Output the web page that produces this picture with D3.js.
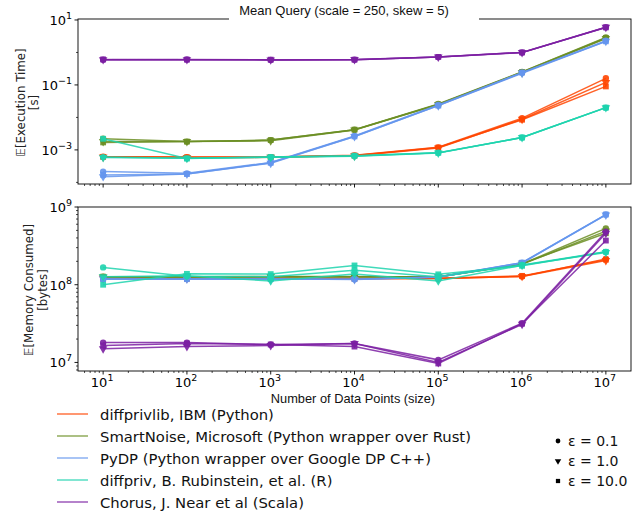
<!DOCTYPE html>
<html><head><meta charset="utf-8">
<script src="https://cdn.jsdelivr.net/npm/d3@7"></script>
<style>body{margin:0;background:#fff;} svg{display:block;}</style>
</head><body>
<svg id="c" width="643" height="513"></svg>
<script>
const sizes = [1e1, 1e2, 1e3, 1e4, 1e5, 1e6, 1e7];
const epsilons = ["0.1", "1.0", "10.0"];
const markerShapes = ["circle", "triangle", "square"];
const libraries = [
  "diffprivlib, IBM (Python)",
  "SmartNoise, Microsoft (Python wrapper over Rust)",
  "PyDP (Python wrapper over Google DP C++)",
  "diffpriv, B. Rubinstein, et al. (R)",
  "Chorus, J. Near et al (Scala)"
];
const colors = ["#ff4500", "#6b8e23", "#6495ed", "#1ed3ae", "#7b1fa2"];
const title = "Mean Query (scale = 250, skew = 5)";
const xLabel = "Number of Data Points (size)";
const xTickExps = [1, 2, 3, 4, 5, 6, 7];
const timeTickExps = [-3, -1, 1];
const memTickExps = [7, 8, 9];

// execution time [s]: per library, per epsilon (0.1, 1.0, 10.0)
const timeDiffprivlib = [
  [0.00062, 0.0006, 0.0006, 0.00068, 0.0012, 0.0095, 0.16],
  [0.0006, 0.00058, 0.00059, 0.00066, 0.00115, 0.0088, 0.12],
  [0.00061, 0.00059, 0.0006, 0.00067, 0.00118, 0.0085, 0.09]
];
const timeSmartNoise = [
  [0.0022, 0.0018, 0.0020, 0.0042, 0.026, 0.25, 2.9],
  [0.0018, 0.0018, 0.0019, 0.0041, 0.025, 0.24, 2.7],
  [0.0017, 0.0018, 0.0020, 0.0042, 0.025, 0.25, 2.8]
];
const timePyDP = [
  [0.000215, 0.00019, 0.00041, 0.0027, 0.024, 0.24, 2.3],
  [0.00015, 0.00018, 0.00039, 0.0026, 0.023, 0.23, 2.2],
  [0.00017, 0.00018, 0.0004, 0.0026, 0.023, 0.24, 2.2]
];
const timeDiffpriv = [
  [0.0006, 0.00055, 0.0006, 0.00065, 0.00082, 0.0024, 0.020],
  [0.00058, 0.00055, 0.00059, 0.00064, 0.0008, 0.0024, 0.020],
  [0.0022, 0.00054, 0.0006, 0.00066, 0.00081, 0.0024, 0.020]
];
const timeChorus = [
  [0.6, 0.61, 0.59, 0.6, 0.72, 1.0, 6.0],
  [0.6, 0.6, 0.59, 0.61, 0.72, 0.99, 6.0],
  [0.61, 0.6, 0.6, 0.6, 0.73, 1.0, 5.9]
];

// memory consumed [bytes]
const memDiffprivlib = [
  [1.2e8, 1.2e8, 1.2e8, 1.2e8, 1.2e8, 1.28e8, 2.15e8],
  [1.21e8, 1.21e8, 1.2e8, 1.2e8, 1.2e8, 1.28e8, 2.05e8],
  [1.2e8, 1.2e8, 1.21e8, 1.2e8, 1.21e8, 1.3e8, 2.1e8]
];
const memSmartNoise = [
  [1.27e8, 1.27e8, 1.27e8, 1.27e8, 1.26e8, 1.85e8, 5.3e8],
  [1.26e8, 1.27e8, 1.28e8, 1.27e8, 1.27e8, 1.83e8, 4.9e8],
  [1.27e8, 1.26e8, 1.27e8, 1.28e8, 1.26e8, 1.87e8, 4.6e8]
];
const memPyDP = [
  [1.18e8, 1.19e8, 1.18e8, 1.18e8, 1.26e8, 1.92e8, 8.0e8],
  [1.19e8, 1.18e8, 1.19e8, 1.17e8, 1.25e8, 1.9e8, 7.9e8],
  [1.18e8, 1.18e8, 1.18e8, 1.18e8, 1.26e8, 1.92e8, 8.0e8]
];
const memDiffpriv = [
  [1.67e8, 1.29e8, 1.27e8, 1.54e8, 1.27e8, 1.8e8, 2.65e8],
  [1.27e8, 1.3e8, 1.12e8, 1.37e8, 1.12e8, 1.78e8, 2.6e8],
  [1.0e8, 1.38e8, 1.37e8, 1.77e8, 1.36e8, 1.75e8, 2.65e8]
];
const memChorus = [
  [1.8e7, 1.8e7, 1.7e7, 1.75e7, 1.08e7, 3.2e7, 4.8e8],
  [1.5e7, 1.6e7, 1.65e7, 1.75e7, 1.0e7, 3.1e7, 4.6e8],
  [1.65e7, 1.75e7, 1.7e7, 1.6e7, 0.97e7, 3.15e7, 3.7e8]
];

const timeData = [timeDiffprivlib, timeSmartNoise, timePyDP, timeDiffpriv, timeChorus];
const memData = [memDiffprivlib, memSmartNoise, memPyDP, memDiffpriv, memChorus];

const svg = d3.select("#c");
const L = 78, R = 631;
const x = d3.scaleLog().domain([Math.pow(10, 0.7), Math.pow(10, 7.3)]).range([L, R]);

const panels = [
  {top: 19, bottom: 184, domain: [Math.pow(10, -4.05), Math.pow(10, 1.03)], data: timeData,
   ticks: timeTickExps, minorDecades: [-4, -2, 0], minorSubs: false,
   label: ["\u{1D53C}[Execution Time]", "[s]"], lx: [21, 34], showX: false},
  {top: 207, bottom: 371, domain: [Math.pow(10, 6.89), Math.pow(10, 9.0)], data: memData,
   ticks: memTickExps, minorSubs: true,
   label: ["\u{1D53C}[Memory Consumed]", "[bytes]"], lx: [29, 43], showX: true}
];

const tickFont = "DejaVu Sans, sans-serif";

function supLabel(sel, exp, anchor) {
  const t = sel.append("text").attr("font-family", tickFont).attr("font-size", 13)
    .attr("fill", "#000").attr("text-anchor", anchor);
  t.append("tspan").text("10");
  t.append("tspan").attr("dy", -6).attr("font-size", 9.5)
    .text(String(exp).replace("-", "\u2212"));
  return t;
}

function symbolPath(shape, size) {
  const type = shape === "circle" ? d3.symbolCircle : shape === "square" ? d3.symbolSquare : d3.symbolTriangle;
  return d3.symbol().type(type).size(size)();
}

panels.forEach(p => {
  const y = d3.scaleLog().domain(p.domain).range([p.bottom, p.top]);
  const g = svg.append("g");

  // data
  const line = d3.line().x((d, i) => x(sizes[i])).y(d => y(d));
  p.data.forEach((lib, li) => {
    lib.forEach((series, ei) => {
      g.append("path").attr("d", line(series)).attr("fill", "none")
        .attr("stroke", colors[li]).attr("stroke-width", 1.5).attr("stroke-opacity", 0.85);
      series.forEach((v, i) => {
        g.append("path").attr("d", symbolPath(markerShapes[ei], markerShapes[ei] === "square" ? 34 : 32))
          .attr("transform", `translate(${x(sizes[i])},${y(v)})` + (markerShapes[ei] === "triangle" ? " rotate(180)" : ""))
          .attr("fill", colors[li]).attr("fill-opacity", 0.9);
      });
    });
  });

  // frame
  g.append("rect").attr("x", L).attr("y", p.top).attr("width", R - L).attr("height", p.bottom - p.top)
    .attr("fill", "none").attr("stroke", "#000").attr("stroke-width", 0.9);

  // x ticks
  const ax = g.append("g");
  for (let e = 0; e <= 7; e++) {
    for (let s = 1; s <= 9; s++) {
      const v = s * Math.pow(10, e);
      if (v < x.domain()[0] || v > x.domain()[1]) continue;
      const major = s === 1;
      ax.append("line").attr("x1", x(v)).attr("x2", x(v)).attr("y1", p.bottom).attr("y2", p.bottom + (major ? 3.5 : 2))
        .attr("stroke", "#000").attr("stroke-width", major ? 0.9 : 0.7);
    }
  }
  if (p.showX) {
    xTickExps.forEach(e => {
      supLabel(ax, e, "middle").attr("x", x(Math.pow(10, e)) - 1).attr("y", p.bottom + 16);
    });
  }

  // y ticks
  const ay = g.append("g");
  p.ticks.forEach(e => {
    const v = Math.pow(10, e);
    ay.append("line").attr("x1", L - 3.5).attr("x2", L).attr("y1", y(v)).attr("y2", y(v)).attr("stroke", "#000").attr("stroke-width", 0.9);
    supLabel(ay, e, "end").attr("x", L - 6).attr("y", y(v) + 5);
  });
  if (p.minorSubs) {
    for (let e = 6; e <= 9; e++) for (let s = 2; s <= 9; s++) {
      const v = s * Math.pow(10, e);
      if (v < p.domain[0] || v > p.domain[1]) continue;
      ay.append("line").attr("x1", L - 2).attr("x2", L).attr("y1", y(v)).attr("y2", y(v)).attr("stroke", "#000").attr("stroke-width", 0.7);
    }
  } else {
    p.minorDecades.forEach(e => {
      const v = Math.pow(10, e);
      if (v < p.domain[0] || v > p.domain[1]) return;
      ay.append("line").attr("x1", L - 2).attr("x2", L).attr("y1", y(v)).attr("y2", y(v)).attr("stroke", "#000").attr("stroke-width", 0.7);
    });
  }

  // y label
  const cy = (p.top + p.bottom) / 2 + 1;
  p.label.forEach((t, i) => {
    svg.append("text").attr("transform", `translate(${p.lx[i]},${cy}) rotate(-90)`)
      .attr("text-anchor", "middle").attr("dominant-baseline", "central")
      .attr("font-family", tickFont).attr("font-size", 11.8).attr("fill", "#222").text(t);
  });
});

// title with white background
svg.append("rect").attr("x", 229).attr("y", 2).attr("width", 250).attr("height", 19).attr("fill", "#fff");
svg.append("text").attr("x", 344).attr("y", 15).attr("text-anchor", "middle")
  .attr("font-family", "Liberation Sans, Arial, sans-serif").attr("font-size", 13).attr("fill", "#111").text(title);

// x label
svg.append("text").attr("x", 353).attr("y", 403).attr("text-anchor", "middle")
  .attr("font-family", "Liberation Sans, Arial, sans-serif").attr("font-size", 12.8).attr("fill", "#111").text(xLabel);

// library legend
const legY0 = 414, legDy = 22;
libraries.forEach((name, i) => {
  const yy = legY0 + i * legDy;
  svg.append("line").attr("x1", 57).attr("x2", 88).attr("y1", yy).attr("y2", yy)
    .attr("stroke", colors[i]).attr("stroke-width", 1.6).attr("stroke-opacity", 0.7);
  svg.append("text").attr("x", 100).attr("y", yy + 5.5).attr("font-family", tickFont)
    .attr("font-size", 14.8).attr("fill", "#111").text(name);
});

// epsilon legend
epsilons.forEach((eps, i) => {
  const yy = 441 + i * 20;
  svg.append("path").attr("d", symbolPath(markerShapes[i], 18))
    .attr("transform", `translate(558,${yy})` + (markerShapes[i] === "triangle" ? " rotate(180)" : ""))
    .attr("fill", "#000");
  svg.append("text").attr("x", 568).attr("y", yy + 5).attr("font-family", tickFont)
    .attr("font-size", 14).attr("fill", "#111").text("\u03B5 = " + eps);
});
</script>
</body></html>
